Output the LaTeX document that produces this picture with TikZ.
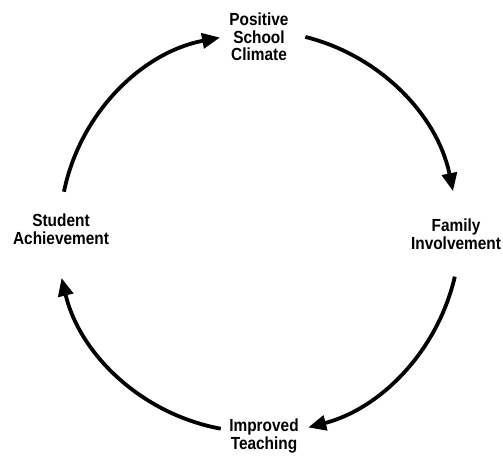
\documentclass[tikz,border=0pt]{standalone}
\usepackage{fontspec}
\setmainfont{Liberation Sans}
\newfontfamily\lblfont[FakeStretch=0.88]{Liberation Sans}
\usetikzlibrary{arrows.meta}
\begin{document}
\begin{tikzpicture}[x=1pt,y=1pt,
  lbl/.style={font=\lblfont\fontsize{17.5}{17.5}\selectfont\bfseries, align=center, inner sep=0pt},
  cyc/.style={line width=3.8pt, -{Triangle[length=18pt,width=15pt]}}]
\useasboundingbox (0,0) rectangle (503,455);
\coordinate (C) at (257,224);
\node[lbl] (top) at (259,418) {Positive\\School\\Climate};
\node[lbl] (right) at (456,221) {Family\\Involvement};
\node[lbl] (bottom) at (264,19) {Improved\\Teaching};
\node[lbl] (left) at (61,226) {Student\\Achievement};
\coordinate (a1) at ([shift={(168.5:197pt)}]C);
\coordinate (a2) at ([shift={(76:200pt)}]C);
\coordinate (a3) at ([shift={(-13:203pt)}]C);
\coordinate (a4) at ([shift={(259.6:201pt)}]C);
\draw[cyc] (a1) arc[start angle=168.5, end angle=100.8, radius=197pt];
\draw[cyc] (a2) arc[start angle=76, end angle=11.5, radius=200pt];
\draw[cyc] (a3) arc[start angle=-13, end angle=-75.4, radius=203pt];
\draw[cyc] (a4) arc[start angle=259.6, end angle=193.5, radius=201pt];
\end{tikzpicture}
\end{document}
